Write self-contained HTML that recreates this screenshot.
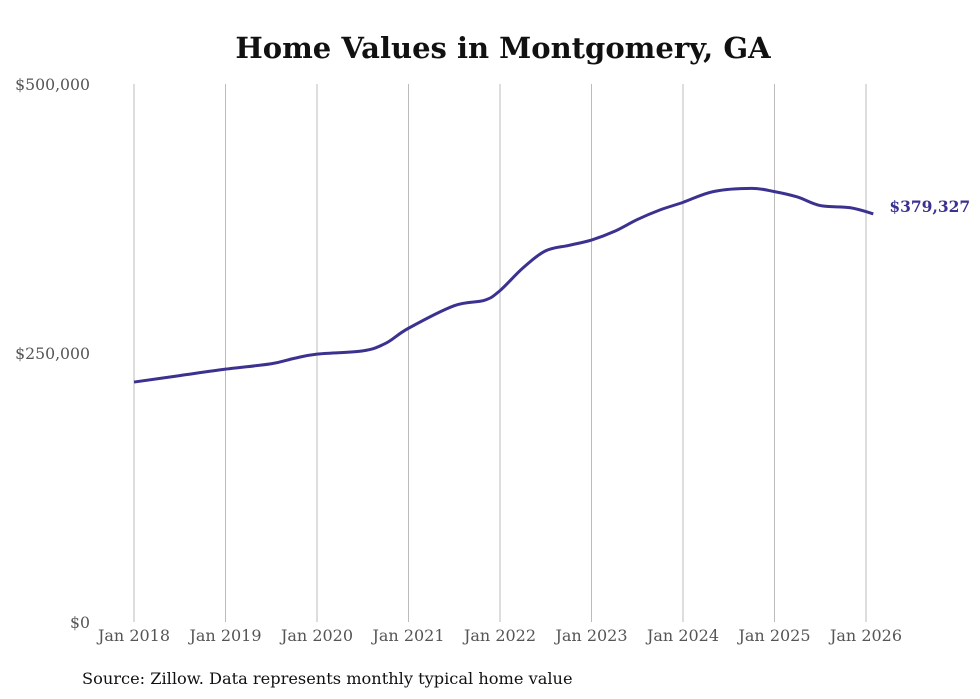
<!DOCTYPE html>
<html><head><meta charset="utf-8"><style>
body{margin:0;background:#fff;}
svg{display:block;font-family:"DejaVu Serif",serif;}
</style></head><body>
<svg id="chart" width="980" height="699">
<text x="503" y="58" text-anchor="middle" font-size="29" font-weight="bold" fill="#111">Home Values in Montgomery, GA</text>
<g id="grid"></g><g id="yt"></g><g id="xt"></g>
<path id="line" fill="none" stroke="#3b3290" stroke-width="3"/>
<text id="endlabel" font-size="15.5" font-weight="bold" fill="#3b3290"></text>
<text x="82" y="684" font-size="16.2" fill="#111">Source: Zillow. Data represents monthly typical home value</text>
</svg>
<script>
const dates=[2018.0,2018.5,2019.0,2019.5,2019.75,2020.0,2020.5,2020.75,2021.0,2021.5,2021.83,2022.0,2022.25,2022.5,2022.75,2023.0,2023.25,2023.5,2023.75,2024.0,2024.33,2024.75,2025.0,2025.25,2025.5,2025.83,2026.08];
const values=[223000,229000,235000,240000,245000,249000,252000,259000,273000,294000,299000,308000,329000,345000,350000,355000,363000,374000,383000,390000,400000,403000,400000,395000,387000,385000,379327];
const yTicks=[0,250000,500000];
const yLabels=["$0","$250,000","$500,000"];
const xYears=[2018,2019,2020,2021,2022,2023,2024,2025,2026];
const endLabel="$379,327";
const NS="http://www.w3.org/2000/svg";
const x=d=>134+(d-2018)*91.5;
const y=v=>622-v/250000*269;
function mk(t,a,p){const e=document.createElementNS(NS,t);for(const k in a)e.setAttribute(k,a[k]);p.appendChild(e);return e;}
const g=document.getElementById('grid'),yt=document.getElementById('yt'),xt=document.getElementById('xt');
xYears.forEach(yr=>{
 const l=mk('line',{x1:x(yr),x2:x(yr),y1:84,y2:622,stroke:'#bbb','stroke-width':1},g);
 
 
 const t=mk('text',{x:x(yr),y:641,'text-anchor':'middle','font-size':16,fill:'#555'},xt);
 t.textContent='Jan '+yr;
 
 
});
yTicks.forEach((v,i)=>{
 const t=mk('text',{x:90,y:y(v)+6,'text-anchor':'end','font-size':15.7,fill:'#555'},yt);
 t.textContent=yLabels[i];
 
 
});
const P=dates.map((d,i)=>[x(d),y(values[i])]);
let p='M'+P[0][0]+','+P[0][1];
for(let i=0;i<P.length-1;i++){
 const p0=P[Math.max(0,i-1)],p1=P[i],p2=P[i+1],p3=P[Math.min(P.length-1,i+2)];
 const c1=[p1[0]+(p2[0]-p0[0])/6,p1[1]+(p2[1]-p0[1])/6],c2=[p2[0]-(p3[0]-p1[0])/6,p2[1]-(p3[1]-p1[1])/6];
 p+=`C${c1[0]},${c1[1]} ${c2[0]},${c2[1]} ${p2[0]},${p2[1]}`;
}
document.getElementById('line').setAttribute('d',p);
const el=document.getElementById('endlabel');
const last=P[P.length-1];
el.setAttribute('x',last[0]+16);el.setAttribute('y',last[1]-2);el.textContent=endLabel;
</script>
</body></html>
